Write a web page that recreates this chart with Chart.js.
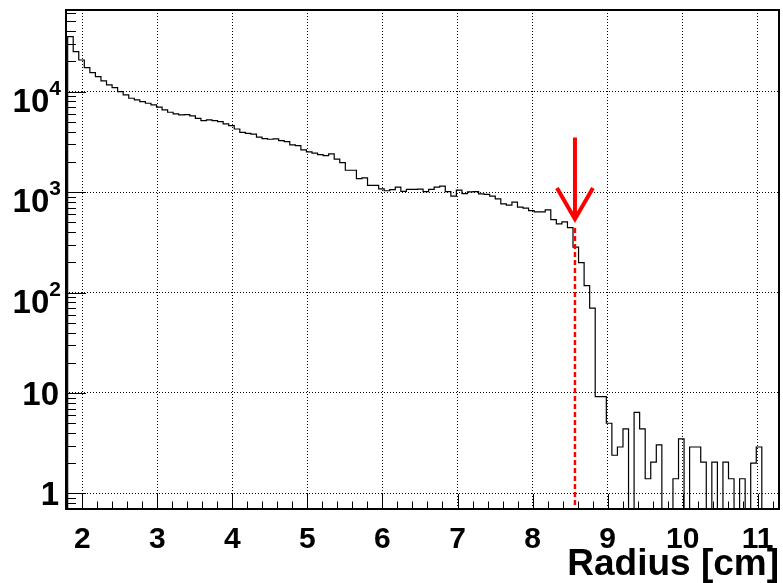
<!DOCTYPE html>
<html>
<head>
<meta charset="utf-8">
<script src="https://cdn.jsdelivr.net/npm/chart.js@4"></script>
<style>
  html,body{margin:0;padding:0;background:#fff;}
  #box{width:783px;height:583px;}
</style>
</head>
<body>
<div id="box"><canvas id="rad" width="783" height="583"></canvas></div>
<script>
// radial distribution, 128 bins of 0.074 cm starting at 1.805 cm
const binStart=1.805;
const binWidth=0.074;
const counts=[
  35250,25000,20660,17330,15450,14100,12780,11660,10960,10000,
  9270,8600,8270,7950,7670,7380,7000,6580,6240,6000,
  5860,5900,5730,5430,5140,5230,5140,5030,4770,4590,
  4250,3940,3850,3770,3520,3410,3360,3380,3250,3180,
  2950,2900,2630,2520,2440,2360,2310,2400,2125,1965,
  1650,1650,1362,1384,1166,1166,1076,1032,1057,1119,
  1016,1064,1064,1069,1010,1064,1119,1145,1012,910,
  1045,966,1005,1012,959,948,912,856,763,741,
  794,708,693,655,635,635,665,532,483,505,
  443,283,199,117,70,9.2,9.2,5.0,2.4,2.9,
  4.4,0,6.4,4.4,1.4,2.05,3.05,0,0,1.4,
  3.5,0,2.9,2.9,2.05,0,2.05,0,2.05,1.4,
  0,1.4,0,2.0,2.9,0,0,0
];
const xTicks=[2,3,4,5,6,7,8,9,10,11];
const xTickLabels=['2','3','4','5','6','7','8','9','10','11'];
const yDecades=[1,10,100,1000,10000];
const yTickLabels=['1','10','10^2','10^3','10^4'];

// cut position and the arrow pointing at it
const cutRadius=8.565;
const arrowFrom=3500;
const arrowTo=540;
const cutLineTop=440;

const xMin=1.783, xMax=11.284, yMin=0.705, yMax=65000;
const floorVal=0.3; // empty bins fall below the frame on a log axis

const FONT='"Liberation Sans", Arial, Helvetica, sans-serif';

// step outline: one point per lower bin edge, closing point at the last upper edge
let pts=[{x:binStart,y:floorVal}];
for(let i=0;i<counts.length;i++){
  pts.push({x:binStart+i*binWidth,y:counts[i]>0?counts[i]:floorVal});
}
pts.push({x:binStart+counts.length*binWidth,y:floorVal});

const rootAxes={
  id:'rootAxes',
  afterDatasetsDraw(chart){
    const {ctx,chartArea:a,scales:{x,y}}=chart;
    ctx.save();

    // dashed cut line
    const cx=x.getPixelForValue(cutRadius);
    ctx.strokeStyle='#ff0000';
    ctx.lineWidth=2.5;
    ctx.setLineDash([5,3]);
    ctx.beginPath();
    ctx.moveTo(cx,y.getPixelForValue(cutLineTop));
    ctx.lineTo(cx,a.bottom);
    ctx.stroke();

    // arrow
    ctx.setLineDash([]);
    ctx.lineWidth=4;
    const ty=y.getPixelForValue(arrowTo);
    ctx.beginPath();
    ctx.moveTo(cx,y.getPixelForValue(arrowFrom));
    ctx.lineTo(cx,ty);
    ctx.moveTo(cx-18,ty-31);
    ctx.lineTo(cx,ty);
    ctx.lineTo(cx+18,ty-31);
    ctx.stroke();

    // tick marks inside the frame
    ctx.strokeStyle='#000';
    ctx.lineWidth=1;
    ctx.beginPath();
    for(let i=9;i<=56;i++){
      const v=i/5;
      if(v<xMin||v>xMax) continue;
      const px=Math.round(x.getPixelForValue(v))+0.5;
      ctx.moveTo(px,a.bottom);
      ctx.lineTo(px,a.bottom-(i%5===0?15:7.5));
    }
    for(let e=-1;e<=4;e++){
      for(let m=1;m<=9;m++){
        const v=m*Math.pow(10,e);
        if(v<yMin||v>yMax) continue;
        const py=Math.round(y.getPixelForValue(v))+0.5;
        ctx.moveTo(a.left,py);
        ctx.lineTo(a.left+(m===1?20:10),py);
      }
    }
    ctx.stroke();

    // frame
    ctx.lineWidth=2;
    ctx.strokeRect(a.left,a.top,a.right-a.left,a.bottom-a.top);
    ctx.restore();
  },
  afterDraw(chart){
    const {ctx,scales:{y}}=chart;
    ctx.save();
    ctx.fillStyle='#000';
    ctx.textAlign='right';
    ctx.textBaseline='alphabetic';
    yTickLabels.forEach((lab,i)=>{
      const py=y.getPixelForValue(yDecades[i]);
      const parts=lab.split('^');
      let right=61;
      if(parts[1]){
        ctx.font='bold 21px '+FONT;
        ctx.fillText(parts[1],right,py+3);
        right-=ctx.measureText(parts[1]).width;
        ctx.font='bold 33px '+FONT;
        ctx.fillText(parts[0],right,py+20);
      }else{
        ctx.font='bold 33px '+FONT;
        ctx.fillText(parts[0],right-2,py+12);
      }
    });
    ctx.restore();
  }
};

new Chart('rad',{
  type:'line',
  data:{
    datasets:[{
      data:pts,
      stepped:'before',
      borderColor:'#000',
      borderWidth:1.2,
      pointRadius:0,
      fill:false
    }]
  },
  options:{
    responsive:false,
    devicePixelRatio:1,
    animation:false,
    layout:{padding:{top:10,right:4,left:0,bottom:0}},
    plugins:{legend:{display:false},tooltip:{enabled:false}},
    scales:{
      x:{
        type:'linear',min:xMin,max:xMax,
        afterBuildTicks:s=>{s.ticks=xTicks.map(v=>({value:v}));},
        afterFit:s=>{s.height=74;s.paddingLeft=0;s.paddingRight=0;},
        grid:{color:'#000',lineWidth:1,drawTicks:false},
        border:{display:false,dash:[1,2]},
        ticks:{
          color:'#000',padding:13,maxRotation:0,autoSkip:false,
          font:{family:FONT,size:30,weight:'bold'},
          callback:(v,i)=>xTickLabels[i]
        },
        title:{
          display:true,text:'Radius [cm]',align:'end',color:'#000',
          font:{family:FONT,size:37,weight:'bold',lineHeight:1},
          padding:{top:0,bottom:0}
        }
      },
      y:{
        type:'logarithmic',min:yMin,max:yMax,
        afterBuildTicks:s=>{s.ticks=yDecades.map(v=>({value:v}));},
        afterFit:s=>{s.width=66;},
        grid:{color:'#000',lineWidth:1,drawTicks:false},
        border:{display:false,dash:[1,2]},
        ticks:{display:false}
      }
    }
  },
  plugins:[rootAxes]
});
</script>
</body>
</html>
